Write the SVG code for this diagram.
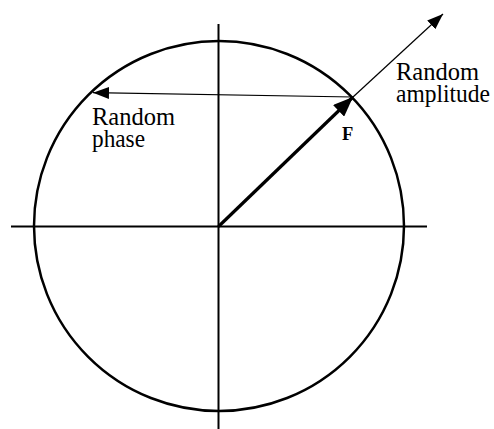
<svg xmlns="http://www.w3.org/2000/svg" width="494" height="429" viewBox="0 0 494 429">
<style>
.lbl{font-family:"Liberation Serif","Times New Roman",serif;font-size:24.5px;fill:#000}
.axis{stroke:#000;stroke-width:2;fill:none}
.thin{stroke:#000;stroke-width:1.2;fill:none}
</style>
<defs>
<marker id="ah" markerUnits="userSpaceOnUse" markerWidth="18" markerHeight="12" refX="16" refY="6" orient="auto">
<path d="M0,0 L16,6 L0,12 Z" fill="#000"/>
</marker>
<marker id="ahF" markerUnits="userSpaceOnUse" markerWidth="22" markerHeight="16" refX="20" refY="8" orient="auto">
<path d="M0,0 L20,8 L0,16 Z" fill="#000"/>
</marker>
</defs>
<rect width="494" height="429" fill="#fff"/>
<g id="circle">
<circle cx="219" cy="226" r="185" fill="none" stroke="#000" stroke-width="2.5"/>
</g>
<g id="axes">
<line class="axis" x1="11" y1="226.5" x2="427" y2="226.5"/>
<line class="axis" x1="218.5" y1="24" x2="218.5" y2="429"/>
</g>
<g id="connectors">
<line x1="218.5" y1="226.5" x2="353" y2="97" stroke="#000" stroke-width="3.2" marker-end="url(#ahF)"/>
<line class="thin" x1="353" y1="97" x2="443" y2="14" marker-end="url(#ah)"/>
<line class="thin" x1="353" y1="97" x2="93" y2="92.7" marker-end="url(#ah)"/>
</g>
<g id="label-phase">
<text class="lbl" x="92" y="125" textLength="83" lengthAdjust="spacingAndGlyphs">Random</text>
<text class="lbl" x="92" y="146.5" textLength="53" lengthAdjust="spacingAndGlyphs">phase</text>
</g>
<g id="label-amplitude">
<text class="lbl" x="396" y="80" textLength="83" lengthAdjust="spacingAndGlyphs">Random</text>
<text class="lbl" x="396" y="101.5" textLength="94" lengthAdjust="spacingAndGlyphs">amplitude</text>
</g>
<g id="label-F">
<text x="342" y="140" font-family="Liberation Serif,serif" font-weight="bold" font-size="18.5">F</text>
</g>
</svg>
